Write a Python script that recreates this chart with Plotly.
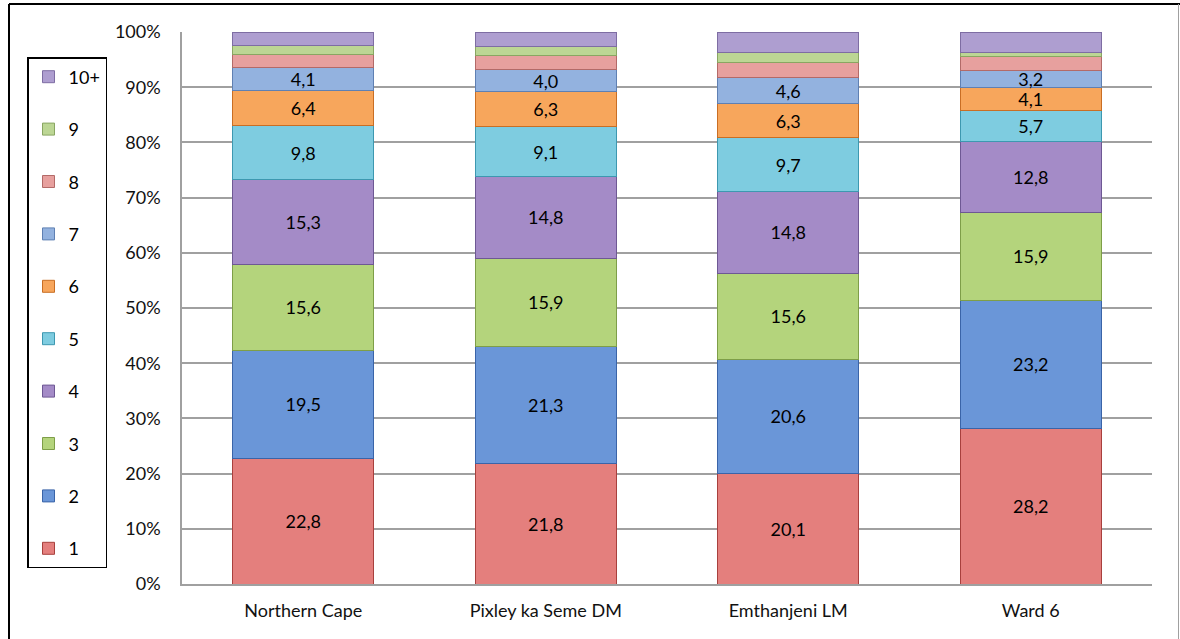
import plotly.graph_objects as go

# Household size distribution (% of households)
categories = ["Northern Cape", "Pixley ka Seme DM", "Emthanjeni LM", "Ward 6"]
series_names = ["1", "2", "3", "4", "5", "6", "7", "8", "9", "10+"]

size_1 = [22.8, 21.8, 20.1, 28.2]
size_2 = [19.5, 21.3, 20.6, 23.2]
size_3 = [15.6, 15.9, 15.6, 15.9]
size_4 = [15.3, 14.8, 14.8, 12.8]
size_5 = [9.8, 9.1, 9.7, 5.7]
size_6 = [6.4, 6.3, 6.3, 4.1]
size_7 = [4.1, 4.0, 4.6, 3.2]
size_8 = [2.5, 2.5, 2.7, 2.5]
size_9 = [1.6, 1.6, 1.9, 0.7]
size_10_plus = [2.4, 2.7, 3.7, 3.7]

series_values = [size_1, size_2, size_3, size_4, size_5,
                 size_6, size_7, size_8, size_9, size_10_plus]
labelled = [True, True, True, True, True, True, True, False, False, False]

y_ticks = [0, 10, 20, 30, 40, 50, 60, 70, 80, 90, 100]
y_tick_text = [f"{v}%" for v in y_ticks]

fills = ["#E47F7D", "#6A96D8", "#B4D47C", "#A48BC7", "#7ECCE0",
         "#F7A65C", "#93B2DF", "#E7A09E", "#BCD694", "#AE9ED0"]
edges = ["#A8403D", "#3A64A8", "#7E9E48", "#6E5894", "#3D98B0",
         "#C96E24", "#5F80B3", "#B36A68", "#89A662", "#7E6DA3"]

FONT = "Lato"

fig = go.Figure()
n = len(series_names)
for i, (name, vals, show, fc, ec) in enumerate(
        zip(series_names, series_values, labelled, fills, edges)):
    fig.add_trace(go.Bar(
        name=name,
        x=categories,
        y=vals,
        legendgroup=name,
        legendrank=n - i,
        marker=dict(color=fc, line=dict(color=ec, width=1)),
        texttemplate="%{y:.1f}" if show else None,
        textposition="inside" if show else "none",
        insidetextanchor="middle",
        constraintext="none",
        textfont=dict(family=FONT, size=18, color="#000000"),
        hoverinfo="name+y",
    ))

# plot-area geometry in pixels, used for the frame lines outside it
L, R, T, B = 182, 28, 32, 55
W, H = 1180 - L - R, 639 - T - B


def px_x(x):
    return (x - L) / W


def px_y(y):
    return (639 - B - y) / H


fig.update_layout(
    width=1180,
    height=639,
    margin=dict(l=L, r=R, t=T, b=B),
    barmode="stack",
    bargap=0.42,
    separators=",.",
    paper_bgcolor="#FFFFFF",
    plot_bgcolor="#FFFFFF",
    font=dict(family=FONT, size=18, color="#111111"),
    showlegend=True,
    legend=dict(
        x=px_x(27), y=px_y(57), xanchor="left", yanchor="top",
        traceorder="grouped",
        tracegroupgap=26,
        bordercolor="#000000", borderwidth=1.5,
        bgcolor="#FFFFFF",
        font=dict(family=FONT, size=18, color="#000000"),
        itemwidth=30,
    ),
    xaxis=dict(
        showgrid=False,
        showline=True, linecolor="#A0A0A0", linewidth=1.5,
        ticks="", tickfont=dict(family=FONT, size=18, color="#111111"),
        ticklabelstandoff=10,
    ),
    yaxis=dict(
        range=[0, 100],
        tickmode="array",
        tickvals=y_ticks,
        ticktext=y_tick_text,
        showgrid=True, gridcolor="#A0A0A0", gridwidth=1.5,
        showline=True, linecolor="#A0A0A0", linewidth=1.5,
        zeroline=False,
        ticks="", tickfont=dict(family=FONT, size=18, color="#111111"),
        ticklabelstandoff=16,
    ),
    shapes=[
        # outer frame: top and left in black, right edge in grey
        dict(type="line", xref="paper", yref="paper",
             x0=px_x(9), x1=px_x(1180), y0=px_y(4), y1=px_y(4),
             line=dict(color="#000000", width=2)),
        dict(type="line", xref="paper", yref="paper",
             x0=px_x(9), x1=px_x(9), y0=px_y(4), y1=px_y(645),
             line=dict(color="#000000", width=2)),
        dict(type="line", xref="paper", yref="paper",
             x0=px_x(1178.5), x1=px_x(1178.5), y0=px_y(4), y1=px_y(645),
             line=dict(color="#A0A0A0", width=1)),
    ],
)

fig.write_html("out.html")
